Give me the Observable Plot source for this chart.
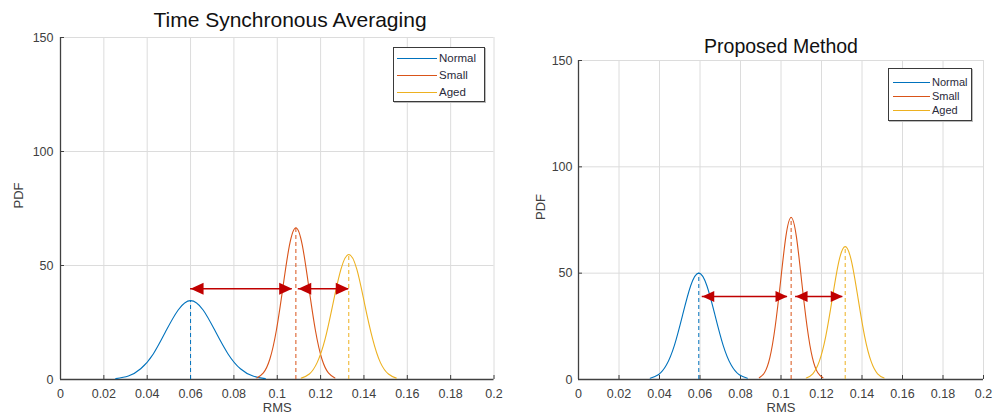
<!DOCTYPE html>
<html><head><meta charset="utf-8">
<script src="https://cdn.jsdelivr.net/npm/d3@7"></script>
<script src="https://cdn.jsdelivr.net/npm/@observablehq/plot@0.6"></script>
<style>
body{margin:0;background:#fff;font-family:"Liberation Sans",Arial,sans-serif;}
#wrap{position:relative;width:994px;height:418px;overflow:hidden;background:#fff;}
.panel{position:absolute;top:0;}
.title{position:absolute;white-space:nowrap;color:#111;transform:translateX(-50%);line-height:1;}
.legend{position:absolute;background:#fff;border:1px solid #3a3a3a;box-sizing:border-box;box-shadow:1px 1px 0 #bbb;}
.legend .row{position:absolute;left:0;right:0;display:flex;align-items:center;}
.legend .sw{display:inline-block;height:0;border-top:1.2px solid;}
.legend .lb{color:#2a2a3a;line-height:1;}
</style></head>
<body><div id="wrap"></div>
<script>
const series = ["Normal", "Small", "Aged"];
const colors = ["#0072BD", "#D95319", "#EDB120"];
const xTicks = [0, 0.02, 0.04, 0.06, 0.08, 0.1, 0.12, 0.14, 0.16, 0.18, 0.2];
const yTicks = [0, 50, 100, 150];
const titles = ["Time Synchronous Averaging", "Proposed Method"];

// Left panel: Time Synchronous Averaging
const tsaNormalX = [0.0255,0.0313,0.0370,0.0428,0.0485,0.0543,0.0600,0.0658,0.0715,0.0773,0.0830,0.0888,0.0945];
const tsaNormalY = [0.4,1.5,4.7,11.2,21.0,30.5,34.6,30.5,21.0,11.2,4.7,1.5,0.4];
const tsaSmallX = [0.0906,0.0936,0.0966,0.0996,0.1026,0.1056,0.1086,0.1116,0.1146,0.1176,0.1206,0.1236,0.1266];
const tsaSmallY = [0.7,2.9,9.0,21.6,40.3,58.7,66.5,58.7,40.3,21.6,9.0,2.9,0.7];
const tsaAgedX = [0.1111,0.1148,0.1184,0.1221,0.1257,0.1294,0.1330,0.1367,0.1403,0.1440,0.1476,0.1513,0.1549];
const tsaAgedY = [0.6,2.4,7.4,17.8,33.2,48.4,54.8,48.4,33.2,17.8,7.4,2.4,0.6];
const tsaMeans = [0.060, 0.1086, 0.133];
const tsaPeaks = [34.6, 66.5, 54.8];
const tsaArrowY = 39.8;
const tsaArrowFrom = [0.060, 0.1097];
const tsaArrowTo = [0.1069, 0.1330];

// Right panel: Proposed Method
const pmNormalX = [0.0354,0.0394,0.0434,0.0474,0.0514,0.0554,0.0594,0.0634,0.0674,0.0714,0.0754,0.0794,0.0834];
const pmNormalY = [0.6,2.2,6.8,16.2,30.3,44.1,50.0,44.1,30.3,16.2,6.8,2.2,0.6];
const pmSmallX = [0.0893,0.0919,0.0945,0.0971,0.0998,0.1024,0.1050,0.1076,0.1102,0.1129,0.1155,0.1181,0.1207];
const pmSmallY = [0.8,3.3,10.3,24.7,46.2,67.2,76.2,67.2,46.2,24.7,10.3,3.3,0.8];
const pmAgedX = [0.1125,0.1157,0.1189,0.1221,0.1253,0.1285,0.1317,0.1349,0.1381,0.1413,0.1445,0.1477,0.1509];
const pmAgedY = [0.7,2.7,8.5,20.3,37.9,55.2,62.5,55.2,37.9,20.3,8.5,2.7,0.7];
const pmMeans = [0.0594, 0.105, 0.1317];
const pmPeaks = [50, 76.2, 62.5];
const pmArrowY = 39;
const pmArrowFrom = [0.0611, 0.1072];
const pmArrowTo = [0.1032, 0.1305];

const arrowColor = "#C00000";
const axisColor = "#404040";

function headSymbol(dir, len, half) {
  return {draw(ctx) { ctx.moveTo(0, 0); ctx.lineTo(-dir * len, -half); ctx.lineTo(-dir * len, half); ctx.closePath(); }};
}
const fmt = d => d === 0 ? "0" : String(+d.toFixed(2));

function makePanel(cfg) {
  const curves = cfg.xs.map((xs, i) => xs.map((x, j) => ({x, y: cfg.ys[i][j], s: i})));
  const idx = [0, 1, 2];
  const marks = [
    Plot.gridX(xTicks, {stroke: "#dcdcdc", strokeOpacity: 1}),
    Plot.gridY(yTicks, {stroke: "#dcdcdc", strokeOpacity: 1}),
    Plot.axisX(xTicks, {label: null, tickSize: 0, tickPadding: 10, tickFormat: fmt, color: axisColor, fontSize: cfg.fs}),
    Plot.axisX(xTicks, {label: null, tickSize: -4, tickFormat: () => "", color: axisColor}),
    Plot.axisY(yTicks, {label: null, tickSize: 0, tickPadding: cfg.yPad, color: axisColor, fontSize: cfg.fs}),
    Plot.axisY(yTicks, {label: null, tickSize: -4, tickFormat: () => "", color: axisColor}),
    Plot.ruleX([0], {stroke: axisColor, strokeWidth: 1.3}),
    Plot.ruleY([0], {stroke: axisColor, strokeWidth: 1.3}),
    ...curves.map((c, i) => Plot.line(c, {x: "x", y: "y", curve: "natural", stroke: colors[i], strokeWidth: 1.1})),
    Plot.ruleX(idx, {x: i => cfg.means[i], y1: 0, y2: i => cfg.peaks[i], stroke: i => colors[i], strokeDasharray: "4,3", strokeWidth: 1}),
    Plot.ruleY(cfg.from, {y: () => cfg.ay, x1: d => d, x2: (d, i) => cfg.to[i], stroke: arrowColor, strokeWidth: 1.5}),
    Plot.dot(cfg.from, {x: d => d, y: () => cfg.ay, symbol: headSymbol(-1, cfg.hl, cfg.hw), fill: arrowColor, stroke: "none"}),
    Plot.dot(cfg.to, {x: d => d, y: () => cfg.ay, symbol: headSymbol(1, cfg.hl, cfg.hw), fill: arrowColor, stroke: "none"}),
    Plot.text(["PDF"], {frameAnchor: "left", dx: cfg.pdfDx, rotate: -90, fontSize: 13, fill: axisColor}),
    Plot.text(["RMS"], {frameAnchor: "bottom", dy: 32, fontSize: 13, fill: axisColor})
  ];
  return Plot.plot({
    width: cfg.width, height: 418,
    marginLeft: cfg.ml, marginRight: cfg.mr, marginTop: cfg.mt, marginBottom: 39,
    x: {domain: [0, 0.2], axis: null},
    y: {domain: [0, 150], axis: null},
    style: {fontFamily: "'Liberation Sans', Arial, sans-serif", background: "transparent", overflow: "visible"},
    marks
  });
}

function makeLegend(cfg) {
  const lg = document.createElement("div");
  lg.className = "legend";
  Object.assign(lg.style, {left: cfg.lx + "px", top: cfg.ly + "px", width: cfg.lw + "px", height: cfg.lh + "px"});
  series.forEach((s, i) => {
    const row = document.createElement("div");
    row.className = "row";
    row.style.top = (cfg.rowTop + i * cfg.rowGap - 7) + "px";
    row.style.height = "14px";
    const sw = document.createElement("span");
    sw.className = "sw";
    Object.assign(sw.style, {marginLeft: cfg.swPad + "px", width: cfg.swW + "px", borderTopColor: colors[i]});
    const lb = document.createElement("span");
    lb.className = "lb";
    lb.textContent = s;
    Object.assign(lb.style, {marginLeft: "2px", fontSize: cfg.lfs + "px"});
    row.append(sw, lb);
    lg.append(row);
  });
  return lg;
}

const wrap = document.getElementById("wrap");
const panels = [
  {left: 0, width: 500, ml: 60, mr: 6.5, mt: 37, fs: 12.5, yPad: 7, pdfDx: -42,
   xs: [tsaNormalX, tsaSmallX, tsaAgedX], ys: [tsaNormalY, tsaSmallY, tsaAgedY],
   means: tsaMeans, peaks: tsaPeaks, ay: tsaArrowY, from: tsaArrowFrom, to: tsaArrowTo, hl: 13, hw: 6,
   title: titles[0], tx: 290, ty: 9.2, tfs: 21,
   lx: 393, ly: 47, lw: 92, lh: 55, rowTop: 10.5, rowGap: 17.2, swPad: 3, swW: 40, lfs: 11.5},
  {left: 500, width: 494, ml: 78, mr: 11, mt: 60, fs: 12.5, yPad: 6, pdfDx: -38,
   xs: [pmNormalX, pmSmallX, pmAgedX], ys: [pmNormalY, pmSmallY, pmAgedY],
   means: pmMeans, peaks: pmPeaks, ay: pmArrowY, from: pmArrowFrom, to: pmArrowTo, hl: 12, hw: 5.5,
   title: titles[1], tx: 781, ty: 36.5, tfs: 19.5,
   lx: 888, ly: 68, lw: 84, lh: 53, rowTop: 13.5, rowGap: 13.8, swPad: 4, swW: 37, lfs: 11}
];
panels.forEach(cfg => {
  const div = document.createElement("div");
  div.className = "panel";
  div.style.left = cfg.left + "px";
  div.append(makePanel(cfg));
  wrap.append(div);
  const t = document.createElement("div");
  t.className = "title";
  t.textContent = cfg.title;
  Object.assign(t.style, {left: cfg.tx + "px", top: cfg.ty + "px", fontSize: cfg.tfs + "px"});
  wrap.append(t);
  wrap.append(makeLegend(cfg));
});
</script></body></html>
